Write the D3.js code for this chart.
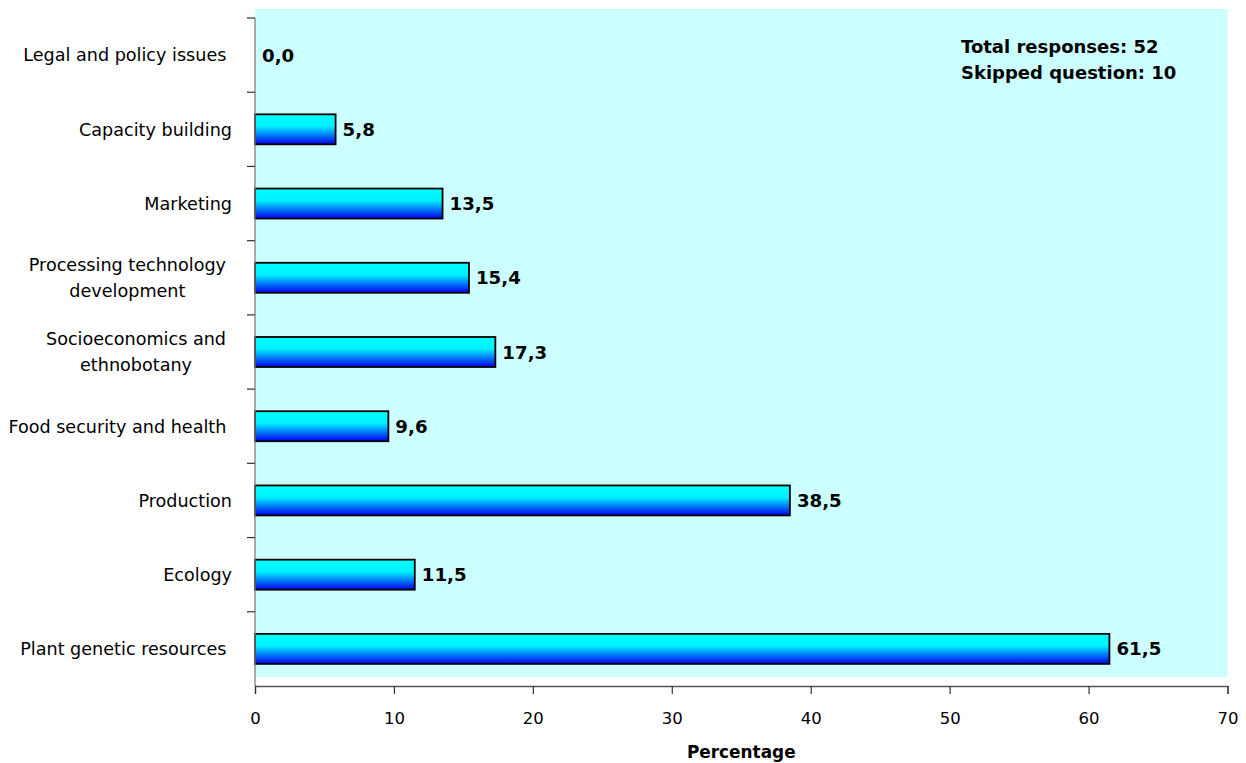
<!DOCTYPE html>
<html>
<head>
<meta charset="utf-8">
<script src="https://cdn.jsdelivr.net/npm/d3@7"></script>
<style>
  html, body { margin: 0; padding: 0; background: #ffffff; }
  svg { display: block; }
  text { white-space: pre; }
</style>
</head>
<body>
<svg id="chart" width="1246" height="763"></svg>
<script>
// Research areas, listed top to bottom, with the share of respondents (%)
const categories = [
  "Legal and policy issues ",
  "Capacity building",
  "Marketing",
  "Processing technology|development",
  "Socioeconomics and|ethnobotany",
  "Food security and health ",
  "Production",
  "Ecology",
  "Plant genetic resources "
];
const values = [0.0, 5.8, 13.5, 15.4, 17.3, 9.6, 38.5, 11.5, 61.5];
const xTicks = [0, 10, 20, 30, 40, 50, 60, 70];
const noteLines = ["Total responses: 52", "Skipped question: 10"];
const xTitle = "Percentage";

(function () {
const rows = categories.map((c, i) => ({ cat: c, value: values[i] }));

const svg = d3.select("#chart");
const font = "'DejaVu Sans', Verdana, sans-serif";

const plotL = 255, plotR = 1227.5, plotT = 18, plotB = 686;

const x = d3.scaleLinear().domain([0, 70]).range([plotL, plotR]);
const y = d3.scaleBand().domain(categories).range([plotT, plotB]).paddingInner(0).paddingOuter(0);

// Gradient fill for the bars: cyan on top shading to blue at the bottom
const defs = svg.append("defs");
const grad = defs.append("linearGradient")
  .attr("id", "barFill").attr("x1", 0).attr("y1", 0).attr("x2", 0).attr("y2", 1);
grad.append("stop").attr("offset", "0%").attr("stop-color", "#00ffff");
grad.append("stop").attr("offset", "40%").attr("stop-color", "#00f0ff");
grad.append("stop").attr("offset", "100%").attr("stop-color", "#0000f0");

// Plot area background
svg.append("rect")
  .attr("x", plotL).attr("y", plotT - 9)
  .attr("width", plotR - plotL).attr("height", plotB - plotT)
  .attr("fill", "#ccffff");

// Bars
const barH = 30;
svg.append("g").selectAll("rect")
  .data(rows.filter(d => d.value > 0))
  .join("rect")
  .attr("x", x(0))
  .attr("y", d => y(d.cat) + y.bandwidth() / 2 - barH / 2)
  .attr("width", d => x(d.value) - x(0))
  .attr("height", barH)
  .attr("fill", "url(#barFill)")
  .attr("stroke", "#000")
  .attr("stroke-width", 1.8);

// Value labels
svg.append("g").selectAll("text")
  .data(rows)
  .join("text")
  .attr("x", d => x(d.value) + 7)
  .attr("y", d => y(d.cat) + y.bandwidth() / 2)
  .attr("dy", "0.36em")
  .attr("font-family", font)
  .attr("font-size", 18.2)
  .attr("font-weight", "bold")
  .attr("fill", "#000")
  .text(d => d.value.toFixed(1).replace(".", ","));

// Y axis (category axis) with ticks between categories
const yAxisG = svg.append("g");
yAxisG.append("line")
  .attr("x1", plotL).attr("x2", plotL).attr("y1", plotT).attr("y2", plotB)
  .attr("stroke", "#808080").attr("stroke-width", 1.3);
yAxisG.selectAll("line.tick")
  .data(categories.map(c => y(c)))
  .join("line")
  .attr("class", "tick")
  .attr("x1", plotL - 8).attr("x2", plotL)
  .attr("y1", d => d).attr("y2", d => d)
  .attr("stroke", "#333").attr("stroke-width", 1.2);

// Category labels: wrapped lines centred inside a right-aligned block
const labelG = svg.append("g")
  .attr("font-family", font).attr("font-size", 17.6).attr("fill", "#000");
categories.forEach(c => {
  const lines = c.split("|");
  const cy = y(c) + y.bandwidth() / 2;
  const t = labelG.append("text").attr("text-anchor", "middle");
  lines.forEach((ln, k) => {
    t.append("tspan").text(ln)
      .attr("x", 0)
      .attr("y", cy + (k - (lines.length - 1) / 2) * 26)
      .attr("dy", "0.36em");
  });
  const w = d3.max(t.selectAll("tspan").nodes(), n => n.getComputedTextLength());
  const rightEdge = lines.length > 1 ? 226 : 232;
  t.selectAll("tspan").attr("x", rightEdge - w / 2);
});

// X axis
const xAxis = d3.axisBottom(x).tickValues(xTicks).tickSize(8).tickSizeOuter(8)
  .tickFormat(d3.format("d"));
const xAxisG = svg.append("g")
  .attr("transform", `translate(0,${plotB})`)
  .call(xAxis);
xAxisG.select(".domain").attr("stroke", "#555").attr("stroke-width", 1.3);
xAxisG.selectAll(".tick line").attr("stroke", "#333").attr("stroke-width", 1.2);
xAxisG.selectAll(".tick text")
  .attr("font-family", font).attr("font-size", 16.5).attr("fill", "#000")
  .attr("y", 32).attr("dy", "0.36em");

// X axis title
svg.append("text")
  .attr("x", (plotL + plotR) / 2).attr("y", 752).attr("dy", "0.36em")
  .attr("text-anchor", "middle")
  .attr("font-family", font).attr("font-size", 16.9).attr("font-weight", "bold")
  .text(xTitle);

// Response note in the top-right corner
svg.append("g").selectAll("text")
  .data(noteLines)
  .join("text")
  .attr("x", 961)
  .attr("y", (d, i) => 47 + i * 26)
  .attr("dy", "0.36em")
  .attr("font-family", font).attr("font-size", 18).attr("font-weight", "bold")
  .text(d => d);
})();
</script>
</body>
</html>
